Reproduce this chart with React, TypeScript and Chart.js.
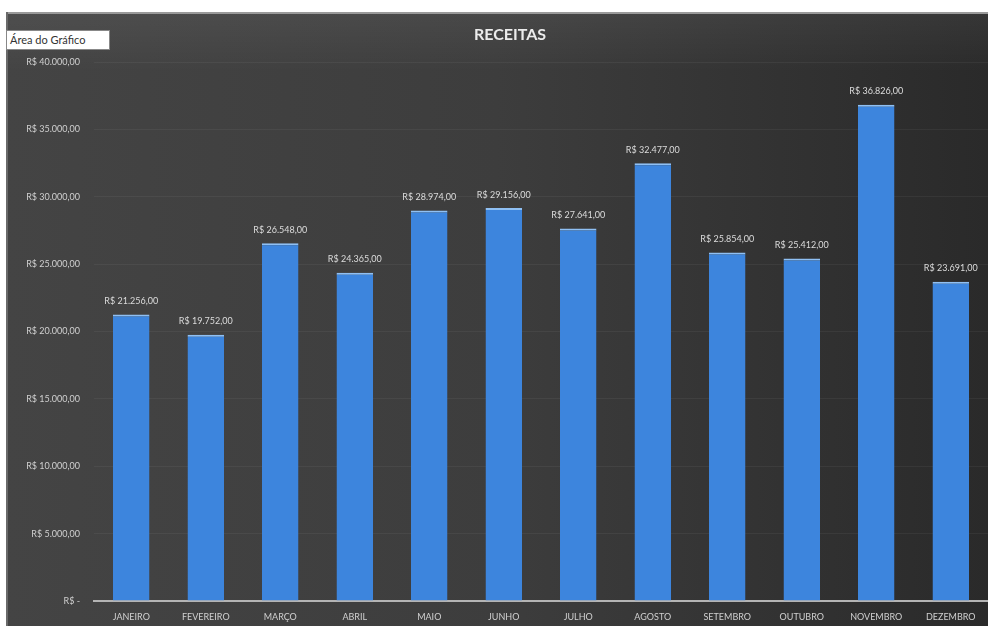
import React, { useEffect, useRef } from "react";
import { Chart, registerables } from "chart.js";

Chart.register(...registerables);

const months = ["JANEIRO", "FEVEREIRO", "MARÇO", "ABRIL", "MAIO", "JUNHO", "JULHO", "AGOSTO", "SETEMBRO", "OUTUBRO", "NOVEMBRO", "DEZEMBRO"];
const receitas = [21256, 19752, 26548, 24365, 28974, 29156, 27641, 32477, 25854, 25412, 36826, 23691];
const yTicks = [0, 5000, 10000, 15000, 20000, 25000, 30000, 35000, 40000];
const chartTitle = "RECEITAS";

const fmt = (v: number) => {
  if (v === 0) return "R$ -";
  const s = Math.round(v).toString().replace(/\B(?=(\d{3})+(?!\d))/g, ".");
  return "R$ " + s + ",00";
};

const bgPlugin = {
  id: "bgPlugin",
  beforeDraw(chart: any) {
    const { ctx, width, height } = chart;
    ctx.save();
    const g = ctx.createLinearGradient(0, 0, width, 0);
    g.addColorStop(0, "#444444");
    g.addColorStop(0.5, "#3d3d3d");
    g.addColorStop(1, "#2a2a2a");
    ctx.fillStyle = g;
    ctx.fillRect(0, 0, width, height);
    const g2 = ctx.createLinearGradient(0, 0, 0, 60);
    g2.addColorStop(0, "rgba(255,255,255,0.06)");
    g2.addColorStop(1, "rgba(255,255,255,0)");
    ctx.fillStyle = g2;
    ctx.fillRect(0, 0, width, 60);
    ctx.fillStyle = "#9a9a9a";
    ctx.fillRect(0, 0, width, 2);
    ctx.fillStyle = "#6a6a6a";
    ctx.fillRect(0, 0, 2, height);
    ctx.restore();
  },
  afterDraw(chart: any) {
    const { ctx } = chart;
    ctx.save();
    ctx.font = "bold 16px Lato, 'Open Sans', sans-serif";
    ctx.fillStyle = "#ececec";
    ctx.textAlign = "center";
    ctx.textBaseline = "middle";
    ctx.fillText(chartTitle, 504, 23);
    ctx.restore();
  },
};

const labelPlugin = {
  id: "labelPlugin",
  afterDatasetsDraw(chart: any) {
    const { ctx } = chart;
    const meta = chart.getDatasetMeta(0);
    const data = chart.data.datasets[0].data as number[];
    ctx.save();
    ctx.font = "9px Lato, 'Open Sans', sans-serif";
    ctx.fillStyle = "#dcdcdc";
    ctx.textAlign = "center";
    ctx.textBaseline = "bottom";
    meta.data.forEach((bar: any, i: number) => {
      ctx.fillText(fmt(data[i]), bar.x, bar.y - 9);
    });
    ctx.restore();
  },
};

export default function App() {
  const ref = useRef<HTMLCanvasElement | null>(null);

  useEffect(() => {
    if (!ref.current) return;
    const chart = new Chart(ref.current, {
      type: "bar",
      data: {
        labels: months,
        datasets: [
          {
            data: receitas,
            backgroundColor: "#3d85dd",
            borderColor: "#8fc0f4",
            borderWidth: { top: 2, left: 0, right: 0, bottom: 0 },
            borderSkipped: false,
            barPercentage: 0.49,
            categoryPercentage: 1,
          },
        ],
      },
      options: {
        animation: false,
        responsive: false,
        maintainAspectRatio: false,
        layout: { padding: { top: 50, left: 0, right: 0, bottom: 0 } },
        plugins: {
          legend: { display: false },
          tooltip: { enabled: false },
          title: { display: false },
        },
        scales: {
          x: {
            grid: { display: false, drawTicks: false },
            border: { display: true, color: "#b4b4b4", width: 2 },
            ticks: {
              color: "#d0d0d0",
              font: { size: 9, family: "Lato, 'Open Sans', sans-serif" },
              padding: 11,
              maxRotation: 0,
              autoSkip: false,
            },
            afterFit(scale: any) {
              scale.height = 25;
            },
          },
          y: {
            min: 0,
            max: 40000,
            afterBuildTicks(scale: any) {
              scale.ticks = yTicks.map((v) => ({ value: v }));
            },
            grid: { color: "rgba(255,255,255,0.05)", drawTicks: false, lineWidth: 1 },
            border: { display: false },
            ticks: {
              color: "#d0d0d0",
              font: { size: 9, family: "Lato, 'Open Sans', sans-serif" },
              padding: 14,
              callback: (v: any) => fmt(Number(v)),
            },
            afterFit(scale: any) {
              scale.width = 88;
            },
          },
        },
      },
      plugins: [bgPlugin, labelPlugin],
    });
    return () => chart.destroy();
  }, []);

  return (
    <div style={{ position: "fixed", left: 0, top: 0, width: 988, height: 626, background: "#ffffff" }}>
      <canvas ref={ref} width={982} height={614} style={{ position: "absolute", left: 6, top: 12, width: 982, height: 614 }} />
      <div
        style={{
          position: "absolute",
          left: 6,
          top: 30,
          width: 104,
          height: 20,
          background: "#ffffff",
          border: "1px solid #888",
          boxSizing: "border-box",
          font: "11px Lato, 'Open Sans', sans-serif",
          color: "#333",
          lineHeight: "18px",
          paddingLeft: 3,
        }}
      >
        Área do Gráfico
      </div>
    </div>
  );
}
